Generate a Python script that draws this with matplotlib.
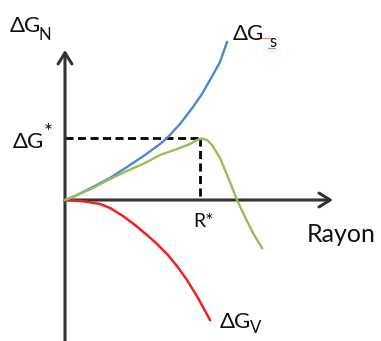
import matplotlib
matplotlib.use("Agg")
import matplotlib.pyplot as plt

plt.rcParams['font.family'] = ['Lato', 'Open Sans', 'DejaVu Sans']

# curves, origin at the axes crossing (x = rayon, y = deltaG)
blue_r = [0, 10, 28, 45, 62, 80, 95, 102, 115, 128, 137, 145, 155, 162]
blue_g = [0, 4, 13, 22, 33, 45, 56, 62, 76, 93, 106, 120, 138, 158]

green_r = [0, 10, 28, 45, 62, 80, 95, 112, 125, 132, 137, 142, 147, 155, 165, 172, 180, 188, 197]
green_g = [0, 4, 12, 21, 29, 37, 45, 51, 56, 60, 61.5, 60, 55, 42, 18, 0, -17, -33, -48]

red_r = [0, 15, 20, 35, 45, 58, 70, 82, 92, 102, 112, 122, 133, 145]
red_g = [0, -1, -1.5, -4, -8, -16, -25, -35, -44, -54, -66, -80, -98, -120]

r_star = 135
g_star = 62

fig = plt.figure(figsize=(3.81, 3.41), dpi=100)
ax = fig.add_axes([0, 0, 1, 1])
ax.set_xlim(-65, 316)
ax.set_ylim(-141, 200)
ax.axis('off')

axcol = '#333333'
# axes with arrows
ax.annotate('', xy=(0, 150), xytext=(0, -145),
            arrowprops=dict(arrowstyle='->,head_length=0.4,head_width=0.25',
                            lw=2.2, color=axcol, mutation_scale=20,
                            shrinkA=0, shrinkB=0))
ax.annotate('', xy=(268, 0), xytext=(0, 0),
            arrowprops=dict(arrowstyle='->,head_length=0.4,head_width=0.25',
                            lw=2.2, color=axcol, mutation_scale=20,
                            shrinkA=0, shrinkB=0))

# dashed guides
ax.plot([0, r_star], [g_star, g_star], color='black', lw=2,
        linestyle=(0, (2.9, 1.6)), solid_capstyle='butt')
ax.plot([r_star, r_star], [g_star, 0], color='black', lw=2,
        linestyle=(0, (2.9, 1.6)), solid_capstyle='butt')

ax.plot(red_r, red_g, color='#EE2222', lw=1.8, zorder=3)
ax.plot(blue_r, blue_g, color='#4F86D0', lw=1.7, zorder=3)
ax.plot(green_r, green_g, color='#9BBB59', lw=1.7, zorder=4)

fs = 16
fsub = 12
tc = '#111111'
ax.text(-55, 168, u'\u0394G', fontsize=fs, color=tc, va='baseline', ha='left')
ax.text(-26, 160, 'N', fontsize=fsub, color=tc, va='baseline', ha='left')

ax.text(-52, 52, u'\u0394G', fontsize=fs, color=tc, va='baseline', ha='left')
ax.text(-21, 61, '*', fontsize=15, color=tc, va='baseline', ha='left')

ax.text(168, 160, u'\u0394G', fontsize=fs, color=tc, va='baseline', ha='left')
ax.text(204, 153, 's', fontsize=fsub, color=tc, va='baseline', ha='left')
# spell-check squiggle under the s label
ax.plot([187, 208], [162, 162], color='#E04040', lw=0.7, alpha=0.7)
ax.plot([203, 210], [152, 152], color='#E04040', lw=0.7, alpha=0.7)

ax.text(155, -128, u'\u0394G', fontsize=fs, color=tc, va='baseline', ha='left')
ax.text(185, -133, 'V', fontsize=fsub, color=tc, va='baseline', ha='left')

ax.text(128, -27, 'R*', fontsize=14, color=tc, va='baseline', ha='left')
ax.text(242, -42, 'Rayon', fontsize=18, color=tc, va='baseline', ha='left')

fig.savefig('out.png', dpi=100)
